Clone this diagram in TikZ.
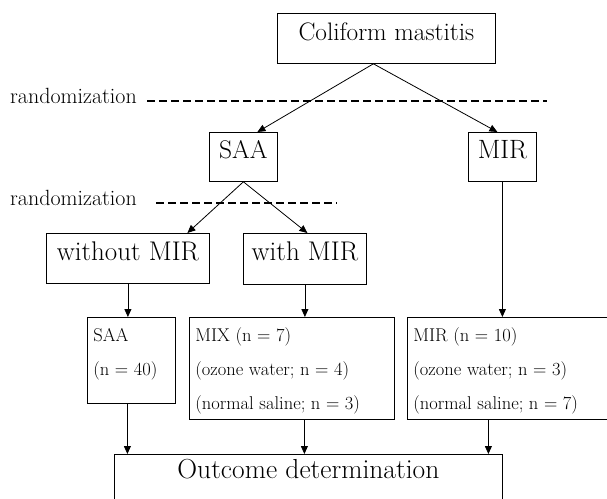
\documentclass[tikz,border=0pt]{standalone}
\usepackage{fontspec}
\usetikzlibrary{arrows.meta,calc}
\begin{document}
\begin{tikzpicture}[x=1pt,y=-1pt,
  box/.style={draw, line width=0.8pt, inner sep=0pt, anchor=north west},
  nbox/.style={draw, line width=0.8pt, inner xsep=6pt, inner ysep=0pt, anchor=north west, font=\fontsize{18.5}{34}\selectfont, text height=24pt},
  randlab/.style={inner sep=0pt, anchor=base west, font=\fontsize{22}{26}\selectfont},
  dashline/.style={line width=1.5pt, dash pattern=on 8pt off 4pt},
  arr/.style={line width=0.8pt, -{Triangle[length=8pt,width=7pt]}}
]
\useasboundingbox (0,0) rectangle (607,498);
\fill[white] (0,0) rectangle (607,498);

% boxes
\node[box, font=\fontsize{25.3}{30}\selectfont, minimum width=218pt, text height=27pt, text depth=23pt] (coli) at (277,13) {Coliform mastitis};
\node[box, font=\fontsize{25.5}{30}\selectfont, minimum width=68pt, text height=26.3pt, text depth=22.7pt] (saa) at (209,132) {SAA};
\node[box, font=\fontsize{26.5}{30}\selectfont, minimum width=68pt, text height=26.3pt, text depth=22.7pt] (mir) at (468,132) {MIR};
\node[box, font=\fontsize{27}{30}\selectfont, minimum width=163pt, text height=27pt, text depth=23pt] (without) at (46,233) {without MIR};
\node[box, font=\fontsize{27}{30}\selectfont, minimum width=123pt, text height=27pt, text depth=24pt] (withmir) at (243,233) {with MIR};

\node[nbox, text depth=62pt] (saa40) at (87,317)
  {\begin{tabular}[t]{@{}p{76pt}@{}}SAA\\(n = 40)\end{tabular}};
\node[nbox, text depth=78pt] (mix) at (189,317)
  {\begin{tabular}[t]{@{}p{193pt}@{}}MIX (n = 7)\\(ozone water; n = 4)\\(normal saline; n = 3)\end{tabular}};
\node[nbox, text depth=78pt] (mir10) at (407,317)
  {\begin{tabular}[t]{@{}p{189pt}@{}}MIR (n = 10)\\(ozone water; n = 3)\\(normal saline; n = 7)\end{tabular}};

\node[box, font=\fontsize{27.5}{30}\selectfont, minimum width=388pt, text height=24pt, text depth=32pt] (out) at (114,454) {Outcome determination};

% randomization labels and dashed lines
\node[randlab] (r1) at (10,103.3) {randomization};
\node[randlab] (r2) at (10,205) {randomization};
\draw[dashline] ([xshift=10pt]r1.mid east) -- ++(400,0);
\draw[dashline] ([xshift=19pt]r2.mid east) -- ++(181,0);

% connectors
\coordinate (apex) at ([xshift=-13pt]coli.south);
\draw[arr] (apex) -- ([xshift=14pt]saa.north);
\draw[arr] (apex) -- ([xshift=-5pt]mir.north);
\draw[arr] (saa.south) -- ([xshift=59.5pt]without.north);
\draw[arr] (saa.south) -- ([xshift=2.5pt]withmir.north);
\draw[arr] (without.south) -- (without.south |- saa40.north);
\draw[arr] (withmir.south) -- (withmir.south |- mix.north);
\draw[arr] (mir.south) -- (mir.south |- mir10.north);
\coordinate (a1) at ([xshift=-4pt]saa40.south);
\coordinate (a2) at ([xshift=12.5pt]mix.south);
\coordinate (a3) at ([xshift=-19.5pt]mir10.south);
\draw[arr] (a1) -- (a1 |- out.north);
\draw[arr] (a2) -- (a2 |- out.north);
\draw[arr] (a3) -- (a3 |- out.north);
\end{tikzpicture}
\end{document}
